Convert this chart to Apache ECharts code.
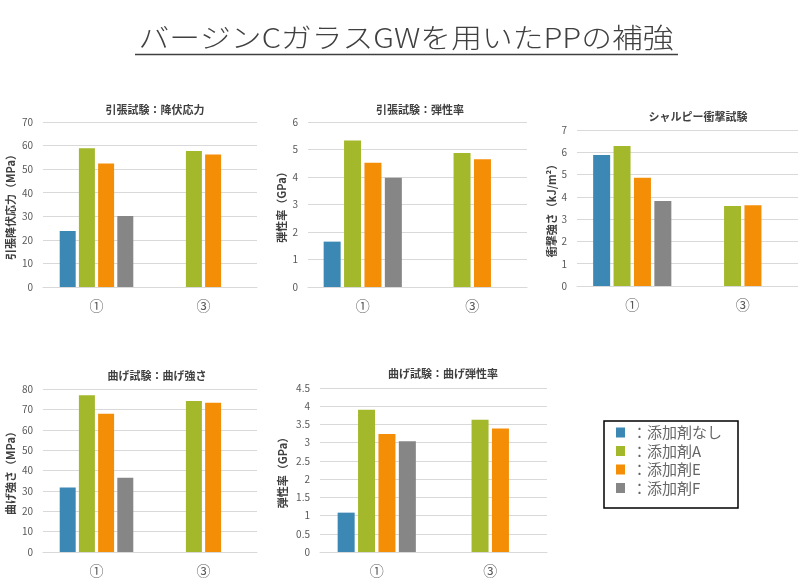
<!DOCTYPE html>
<html><head><meta charset="utf-8">
<script src="https://cdn.jsdelivr.net/npm/echarts@6/dist/echarts.min.js"></script>
<style>html,body{margin:0;padding:0;background:#fff}#c{width:798px;height:583px}</style>
</head><body><div id="c"></div>
<script>
// ---- data ----
const categories = ['①', '③'];
const seriesNames = ['添加剤なし', '添加剤A', '添加剤E', '添加剤F'];
const mainTitle = 'バージンCガラスGWを用いたPPの補強';
const panelTitles = ['引張試験：降伏応力', '引張試験：弾性率', 'シャルピー衝撃試験', '曲げ試験：曲げ強さ', '曲げ試験：曲げ弾性率'];
const axisNames = ['引張降伏応力（MPa）', '弾性率（GPa）', '衝撃強さ（kJ/m²）', '曲げ強さ（MPa）', '弾性率（GPa）'];
// each: [添加剤なし, 添加剤A, 添加剤E, 添加剤F] x [①, ③]
const yieldStress    = [[23.8, null], [58.9, 57.7], [52.4, 56.2], [30.1, null]];
const tensileModulus = [[1.65, null], [5.33, 4.87], [4.52, 4.65], [3.97, null]];
const charpy         = [[5.88, null], [6.28, 3.59], [4.86, 3.62], [3.81, null]];
const flexStrength   = [[31.6, null], [76.9, 74.1], [67.8, 73.2], [36.5, null]];
const flexModulus    = [[1.08, null], [3.90, 3.63], [3.24, 3.39], [3.04, null]];
const yMax = [70, 6, 7, 80, 4.5];
const yInterval = [10, 1, 1, 10, 0.5];

// ---- style / layout ----
const FONT = 'Noto Sans CJK JP';
const colors = ['#3b88b4', '#a3b82b', '#f58e07', '#868686'];
const panelData = [yieldStress, tensileModulus, charpy, flexStrength, flexModulus];
const layout = [
  {left: 43, top: 122, width: 214, height: 165, titleX: 155, titleY: 110, gap: 27, bw: 16},
  {left: 308, top: 122, width: 219, height: 165, titleX: 420, titleY: 110, gap: 21, bw: 17},
  {left: 577, top: 130, width: 221, height: 156, titleX: 698, titleY: 117, gap: 19, bw: 17},
  {left: 43, top: 389, width: 214, height: 163, titleX: 157, titleY: 376, gap: 27, bw: 16},
  {left: 320, top: 388, width: 227, height: 164, titleX: 443, titleY: 374, gap: 32, bw: 17}
];

const grids = [], xAxes = [], yAxes = [], series = [], graphics = [];
layout.forEach((L, i) => {
  grids.push({left: L.left, top: L.top, width: L.width, height: L.height, containLabel: false});
  xAxes.push({
    type: 'category', gridIndex: i, data: categories,
    axisTick: {show: false},
    axisLine: {lineStyle: {color: '#d9d9d9', width: 1}},
    axisLabel: {color: '#595959', fontSize: 14, fontFamily: FONT, margin: 12}
  });
  yAxes.push({
    type: 'value', gridIndex: i, min: 0, max: yMax[i], interval: yInterval[i],
    axisLine: {show: false}, axisTick: {show: false},
    splitLine: {lineStyle: {color: '#d9d9d9', width: 1}},
    axisLabel: {color: '#595959', fontSize: 10, fontFamily: FONT, margin: 10},
    name: axisNames[i], nameLocation: 'middle', nameRotate: 90, nameGap: L.gap,
    nameTextStyle: {color: '#404040', fontSize: 11, fontWeight: 'bold', fontFamily: FONT}
  });
  seriesNames.forEach((n, s) => {
    series.push({
      type: 'bar', name: n, xAxisIndex: i, yAxisIndex: i,
      data: panelData[i][s], barWidth: L.bw, barGap: '20%',
      itemStyle: {color: colors[s]}
    });
  });
  graphics.push({
    type: 'text', x: L.titleX, y: L.titleY, z: 10,
    style: {text: panelTitles[i], fill: '#404040', font: 'bold 11px "' + FONT + '"', align: 'center', verticalAlign: 'middle'}
  });
});

// main title and underline
graphics.push({
  type: 'text', x: 406, y: 38, scaleX: 1.14, z: 10,
  style: {text: mainTitle, fill: '#404040', font: '300 27px "' + FONT + '"', align: 'center', verticalAlign: 'middle'}
});
graphics.push({
  type: 'line', z: 10, shape: {x1: 135, y1: 54.5, x2: 678, y2: 54.5},
  style: {stroke: '#404040', lineWidth: 1.5}
});
// legend frame
graphics.push({
  type: 'rect', z: 10, shape: {x: 604, y: 421, width: 134, height: 87},
  style: {fill: 'none', stroke: '#000', lineWidth: 1.5}
});

const chart = echarts.init(document.getElementById('c'), null, {renderer: 'canvas'});
chart.setOption({
  animation: false,
  backgroundColor: '#fff',
  grid: grids, xAxis: xAxes, yAxis: yAxes, series: series,
  legend: {
    data: seriesNames, orient: 'vertical', left: 611, top: 420,
    icon: 'rect', itemWidth: 9, itemHeight: 10, itemGap: 3.5,
    formatter: n => '：' + n,
    textStyle: {color: '#666666', fontSize: 15, fontFamily: FONT, padding: [0, 0, 0, 2]},
    selectedMode: false
  },
  graphic: graphics
});
</script></body></html>
